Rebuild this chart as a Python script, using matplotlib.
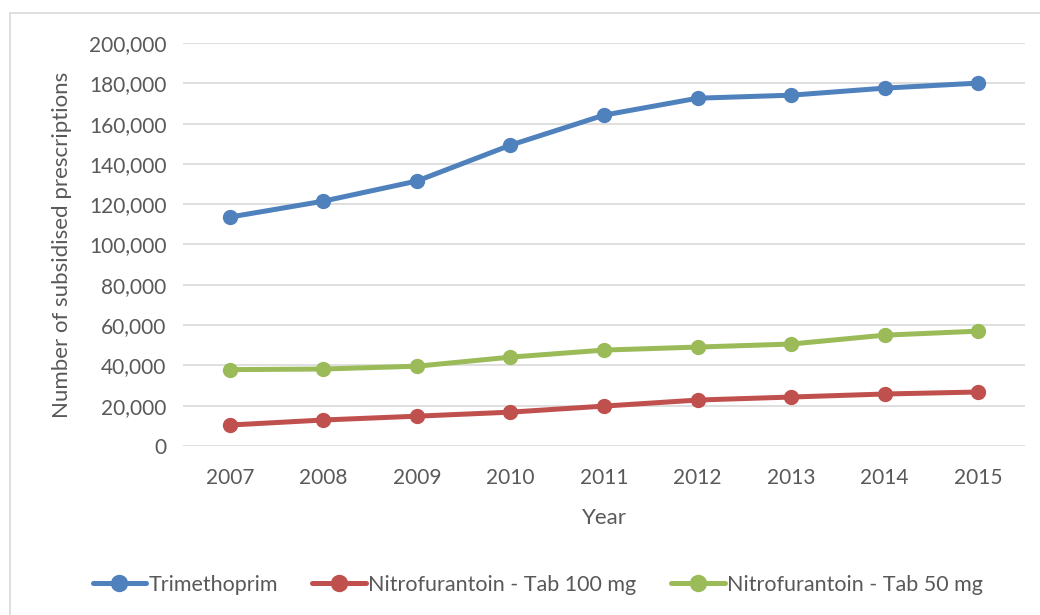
import matplotlib
matplotlib.use('Agg')
import matplotlib.pyplot as plt
import matplotlib.ticker as tkr
from matplotlib.patches import Rectangle

years = ['2007', '2008', '2009', '2010', '2011', '2012', '2013', '2014', '2015']
trimethoprim = [113600, 121500, 131500, 149300, 164200, 172600, 174100, 177600, 180100]
nitro_100 = [10400, 12900, 14800, 16800, 19800, 22800, 24300, 25800, 26800]
nitro_50 = [37900, 38200, 39600, 44100, 47600, 49100, 50600, 55000, 57000]

series = [
    ('Trimethoprim', trimethoprim, '#4f81bd'),
    ('Nitrofurantoin - Tab 100 mg', nitro_100, '#c0504d'),
    ('Nitrofurantoin - Tab 50 mg', nitro_50, '#9bbb59'),
]

plt.rcParams['font.family'] = ['Lato', 'DejaVu Sans']
txt = '#595959'

fig = plt.figure(figsize=(10.4, 6.15), dpi=100)
# outer chart border
fig.patches.append(Rectangle((10 / 1040, -0.01), 1.02, 1 - 13 / 615 + 0.01,
                             transform=fig.transFigure, fill=False,
                             edgecolor='#d9d9d9', linewidth=1.2))
ax = fig.add_axes([183 / 1040, 1 - 446 / 615, 842 / 1040, 403 / 615])

x = list(range(len(years)))
for name, vals, col in series:
    ax.plot(x, vals, color=col, linewidth=3.6, marker='o', markersize=10,
            label=name, solid_capstyle='round')

ax.set_xlim(-0.5, len(years) - 0.5)
ax.set_ylim(0, 200000)
ax.set_yticks(range(0, 200001, 20000))
ax.yaxis.set_major_formatter(tkr.FuncFormatter(lambda v, p: f'{int(v):,}'))
ax.set_xticks(x)
ax.set_xticklabels(years)
ax.grid(axis='y', color='#d9d9d9', linewidth=1.2)
ax.set_axisbelow(True)
for s in ax.spines.values():
    s.set_visible(False)
ax.tick_params(length=0, labelsize=15, colors=txt, pad=12)
ax.tick_params(axis='x', pad=16)
ax.set_xlabel('Year', fontsize=16, color=txt, labelpad=14)
ax.set_ylabel('Number of subsidised prescriptions', fontsize=16, color=txt, labelpad=12)

leg = fig.legend(loc='center', bbox_to_anchor=(0.517, 1 - 585 / 615), ncol=3, frameon=False,
                 fontsize=15.5, handlelength=2.5, handletextpad=0.1, columnspacing=1.6,
                 markerscale=1.15)
for t in leg.get_texts():
    t.set_color(txt)

fig.savefig('out.png', dpi=100)
